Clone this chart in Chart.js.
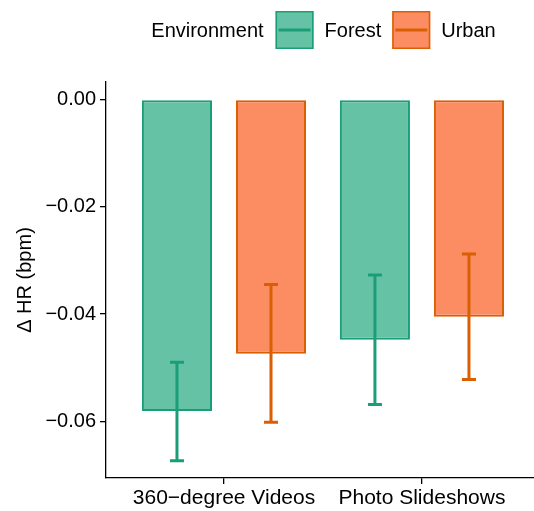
<!DOCTYPE html>
<html>
<head>
<meta charset="utf-8">
<script src="https://cdn.jsdelivr.net/npm/chart.js@4/dist/chart.umd.min.js"></script>
<style>
  body { margin: 0; background: #fff; }
  #wrap { width: 534px; height: 511px; }
</style>
</head>
<body>
<div id="wrap"><canvas id="chart" width="534" height="511"></canvas></div>
<script>
// Chart values
const categories = ['360\u2212degree Videos', 'Photo Slideshows'];
const environments = ['Forest', 'Urban'];

const forestMean = [-0.0581, -0.0448];
const forestLow  = [-0.0674, -0.0569];
const forestHigh = [-0.0490, -0.0327];

const urbanMean = [-0.0474, -0.0405];
const urbanLow  = [-0.0602, -0.0522];
const urbanHigh = [-0.0345, -0.0288];

const yTicks = [-0.06, -0.04, -0.02, 0];

const fills   = ['#66c2a5', '#fc8d62'];
const borders = ['#1b9e77', '#d95f02'];

const means = [forestMean, urbanMean];
const lows  = [forestLow, urbanLow];
const highs = [forestHigh, urbanHigh];

Chart.defaults.font.family = '"Liberation Sans", Arial, Helvetica, sans-serif';
Chart.defaults.font.size = 20;
Chart.defaults.color = '#000';

// error bars drawn on top of the bars, using bar positions and the y scale
const errorBars = {
    id: 'errorBars',
    afterDatasetsDraw(chart) {
        const ctx = chart.ctx;
        const y = chart.scales.y;
        chart.data.datasets.forEach((ds, d) => {
            const meta = chart.getDatasetMeta(d);
            meta.data.forEach((bar, i) => {
                let top = y.getPixelForValue(highs[d][i]);
                let bottom = y.getPixelForValue(lows[d][i]);
                ctx.save();
                ctx.strokeStyle = borders[d];
                ctx.lineWidth = 3;
                ctx.beginPath();
                ctx.moveTo(bar.x, top);
                ctx.lineTo(bar.x, bottom);
                ctx.moveTo(bar.x - 7, top);
                ctx.lineTo(bar.x + 7, top);
                ctx.moveTo(bar.x - 7, bottom);
                ctx.lineTo(bar.x + 7, bottom);
                ctx.stroke();
                ctx.restore();
            });
        });
    }
};

// ggplot-like legend across the top: title, then boxes with a line through them
const topLegend = {
    id: 'topLegend',
    afterDraw(chart) {
        const ctx = chart.ctx;
        const box = 38, gap = 12, cy = 30;
        ctx.save();
        ctx.font = '20px ' + Chart.defaults.font.family;
        ctx.textBaseline = 'middle';
        ctx.fillStyle = '#000';

        let title = 'Environment';
        let widths = environments.map(e => ctx.measureText(e).width);
        let total = ctx.measureText(title).width + gap;
        widths.forEach(w => total += box + 11 + w + 11);
        total -= 11;

        let x = 323.5 - total / 2;
        ctx.fillText(title, x, cy + 1);
        x += ctx.measureText(title).width + gap;

        environments.forEach((env, i) => {
            ctx.fillStyle = fills[i];
            ctx.fillRect(x, cy - box / 2, box, box);
            ctx.strokeStyle = borders[i];
            ctx.lineWidth = 1.5;
            ctx.strokeRect(x + 0.75, cy - box / 2 + 0.75, box - 1.5, box - 1.5);
            ctx.lineWidth = 3;
            ctx.beginPath();
            ctx.moveTo(x + 3, cy);
            ctx.lineTo(x + box - 3, cy);
            ctx.stroke();
            x += box + 11;
            ctx.fillStyle = '#000';
            ctx.fillText(env, x, cy + 1);
            x += widths[i] + 11;
        });
        ctx.restore();
    }
};

new Chart(document.getElementById('chart'), {
    type: 'bar',
    data: {
        datasets: environments.map((env, d) => ({
            label: env,
            data: means[d].map((v, i) => ({ x: i + 1, y: v })),
            backgroundColor: fills[d],
            borderColor: borders[d],
            borderWidth: 2,
            borderSkipped: false,
            categoryPercentage: 0.95,
            barPercentage: 0.745
        }))
    },
    options: {
        responsive: false,
        animation: false,
        layout: { padding: { top: 82, right: 0, left: 0, bottom: 0 } },
        scales: {
            x: {
                type: 'linear',
                offset: false,
                min: 0.404,
                max: 2.566,
                afterBuildTicks: scale => { scale.ticks = categories.map((c, i) => ({ value: i + 1 })); },
                afterFit: scale => { scale.height = 33; },
                ticks: {
                    callback: value => categories[value - 1],
                    padding: 2,
                    color: '#000',
                    font: { size: 21 },
                    maxRotation: 0,
                    autoSkip: false
                },
                grid: { display: true, offset: false, drawOnChartArea: false, drawTicks: true, tickLength: 6, color: '#000', lineWidth: 1.3 },
                border: { display: true, color: '#000', width: 1.3 }
            },
            y: {
                min: -0.0706,
                max: 0.0033,
                afterBuildTicks: scale => { scale.ticks = yTicks.map(v => ({ value: v })); },
                afterFit: scale => { scale.width = 106; },
                ticks: {
                    callback: value => (value < 0 ? '\u2212' : '') + Math.abs(value).toFixed(2),
                    padding: 4,
                    color: '#000'
                },
                title: {
                    display: true,
                    text: '\u0394 HR (bpm)',
                    font: { size: 20 },
                    padding: { top: 13, bottom: 0 }
                },
                grid: { display: true, drawOnChartArea: false, drawTicks: true, tickLength: 6, color: '#000', lineWidth: 1.3 },
                border: { display: true, color: '#000', width: 1.3 }
            }
        },
        plugins: {
            legend: { display: false },
            tooltip: { enabled: false }
        }
    },
    plugins: [errorBars, topLegend]
});
</script>
</body>
</html>
